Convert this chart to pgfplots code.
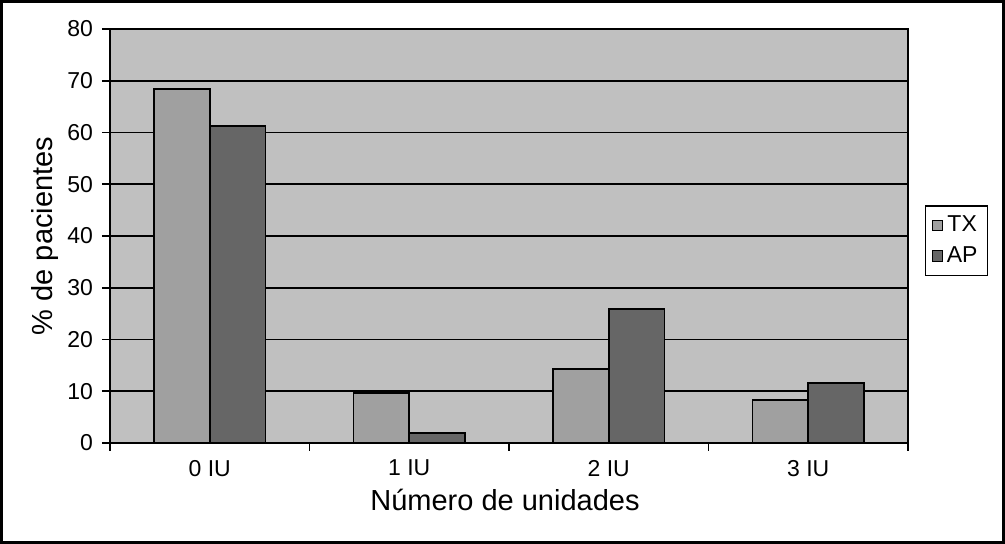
\documentclass[border=0pt]{standalone}
\usepackage{pgfplots}
\pgfplotsset{compat=1.18}
\usepackage{fontspec}
\setmainfont{Liberation Sans}
\definecolor{bgc}{RGB}{192,192,192}
\definecolor{txc}{RGB}{160,160,160}
\definecolor{apc}{RGB}{102,102,102}
\begin{document}
\begin{tikzpicture}
\draw[line width=1.5pt] (-54.25pt,-49.75pt) rectangle (446.75pt,220.75pt);
\begin{axis}[
  at={(0pt,0pt)}, anchor=south west,
  scale only axis, width=399pt, height=207pt,
  xmin=-0.5, xmax=3.5, ymin=0, ymax=80,
  ytick={0,10,...,80},
  xtick={0,1,2,3},
  xticklabels={0 IU,1 IU,2 IU,3 IU},
  minor xtick={-0.5,0.5,1.5,2.5,3.5},
  major x tick style={draw=none},
  minor x tick style={black, line width=0.8pt},
  y tick style={black, line width=0.8pt},
  tick align=outside,
  major tick length=4pt, minor tick length=4pt,
  xtick pos=bottom, ytick pos=left,
  ymajorgrids, grid style={black, line width=0.8pt},
  axis background/.style={fill=bgc},
  axis line style={line width=0.8pt, black},
  tick label style={font=\fontsize{11.5}{13}\selectfont},
  xticklabel style={yshift=-1pt},
  yticklabel style={xshift=-1pt},
  /pgf/number format/assume math mode=true,
  xlabel={Número de unidades},
  ylabel={\% de pacientes},
  label style={font=\fontsize{14.5}{16}\selectfont},
  xlabel style={at={(axis description cs:0.495,-0.138)}, anchor=center},
  ylabel style={at={(axis description cs:-0.0815,0.5)}, anchor=center},
  ybar=0pt, bar width=0.28,
  legend style={at={(1.021,0.575)}, anchor=north west, draw=black, line width=0.8pt,
    font=\fontsize{11.5}{13}\selectfont, row sep=2pt, inner sep=3pt},
  legend image code/.code={\draw[#1, line width=0.5pt] (0.05cm,-0.09cm) rectangle (0.23cm,0.09cm);},
]
\addplot[fill=txc, draw=black, line width=0.8pt] coordinates {(0,68.4) (1,9.7) (2,14.3) (3,8.3)};
\addplot[fill=apc, draw=black, line width=0.8pt] coordinates {(0,61.2) (1,1.9) (2,25.9) (3,11.6)};
\legend{TX,AP}
\end{axis}
\pgfresetboundingbox
\path (-55pt,-50.5pt) rectangle (447.5pt,221.5pt);
\end{tikzpicture}
\end{document}
